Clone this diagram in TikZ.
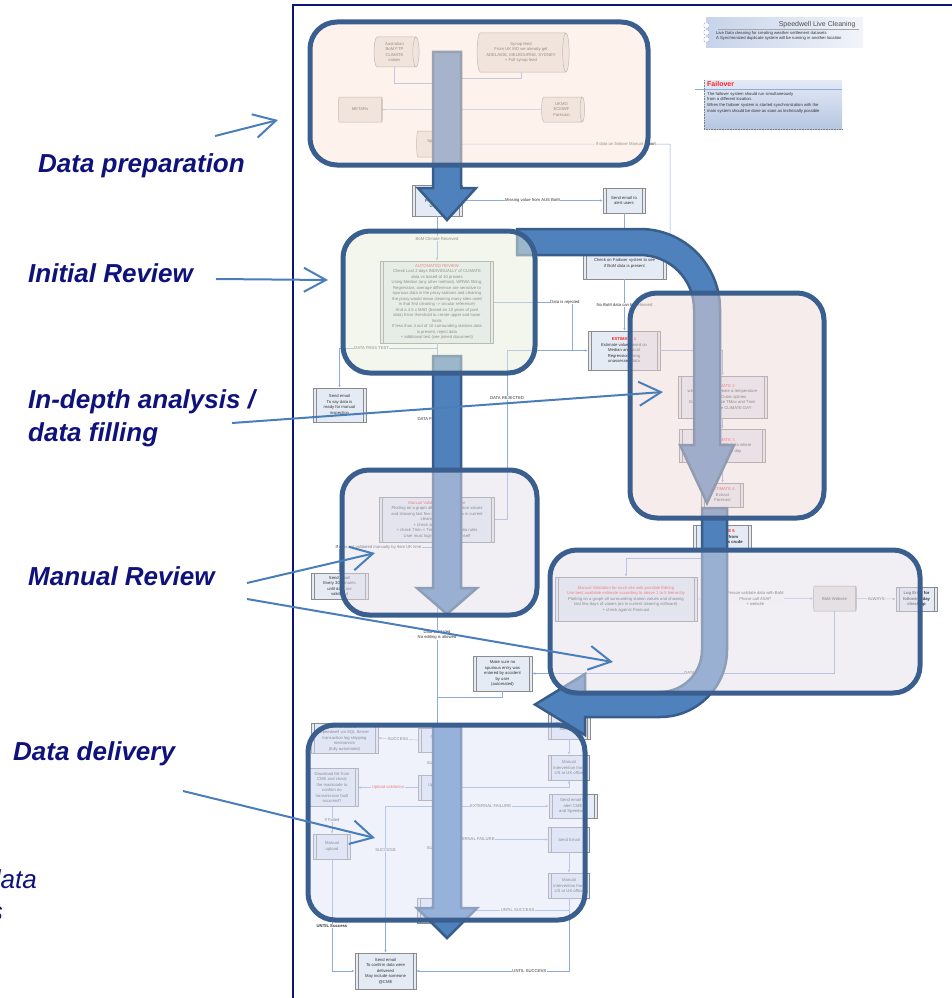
\documentclass[tikz,border=0pt]{standalone}
\usepackage{fontspec}
\setmainfont{Liberation Sans}
\usetikzlibrary{arrows.meta,shapes.geometric,calc}

\definecolor{slidenavy}{HTML}{0E127A}
\definecolor{framecol}{HTML}{3A5E8E}
\definecolor{bigfill}{HTML}{4F81BD}
\definecolor{bigline}{HTML}{385D8A}
\definecolor{calloutcol}{HTML}{4A7EBB}
\definecolor{flowline}{HTML}{8FAADC}
\definecolor{boxline}{HTML}{8C8C8C}
\definecolor{boxfill}{HTML}{E5EBF5}
\definecolor{cylfill}{HTML}{E6E2E0}
\definecolor{flowtext}{HTML}{333333}
\definecolor{alertred}{HTML}{FF2020}
\definecolor{titlegray}{HTML}{505050}
\definecolor{titleL}{HTML}{C6D3EA}
\definecolor{titleR}{HTML}{F1F4FA}
\definecolor{failT}{HTML}{E4EAF5}
\definecolor{failB}{HTML}{B6C6E2}
\definecolor{prepcol}{HTML}{FBE7D9}
\definecolor{reviewcol}{HTML}{E7EDD9}
\definecolor{depthcol}{HTML}{EFD9D9}
\definecolor{manualcol}{HTML}{E3DFE9}
\definecolor{delivcol}{HTML}{DFE3F7}

\newcommand{\flowfont}{\fontsize{4.2}{5.5}\selectfont}

\begin{document}
\begin{tikzpicture}[x=1pt,y=-1pt,
  procbox/.style={draw=boxline, line width=0.5pt, fill=boxfill, align=center,
    font=\flowfont, text=flowtext, inner sep=0.5pt,
    path picture={
      \draw[boxline, line width=0.5pt]
        ([xshift=3pt]path picture bounding box.north west) -- ([xshift=3pt]path picture bounding box.south west)
        ([xshift=-3pt]path picture bounding box.north east) -- ([xshift=-3pt]path picture bounding box.south east);
    }},
  % a lying data store: "minimum height" runs along its axis, "minimum width" across it
  datastore/.style={cylinder, shape aspect=0.3, draw=boxline, line width=0.5pt, fill=cylfill,
    align=center, font=\flowfont, text=flowtext, inner sep=0.5pt},
  flowarrow/.style={draw=flowline, line width=0.5pt, -{Latex[length=3pt,width=2.4pt]}},
  flowlink/.style={draw=flowline, line width=0.5pt},
  flowlabel/.style={font=\flowfont, text=flowtext, fill=white, inner sep=0.5pt, align=center},
  stage/.style={rounded corners=27pt, draw=framecol, line width=5pt, fill opacity=0.5},
  bigarrow/.style={fill=bigfill, draw=bigline, line width=2.5pt, line join=miter},
  callout/.style={draw=calloutcol, line width=2pt, -{Straight Barb[length=22pt,width=24pt]}},
  stagelabel/.style={font=\fontsize{26}{30}\selectfont\bfseries\itshape, text=slidenavy,
    anchor=base west, inner sep=0pt},
  partlabel/.style={font=\fontsize{26}{30}\selectfont\itshape, text=slidenavy,
    anchor=base east, inner sep=0pt}
]
\useasboundingbox (0,0) rectangle (951,998);

% slide frame
\draw[slidenavy, line width=2pt] (293,999) -- (293,5) -- (952,5);

% ---------- title note ----------
\node[left color=titleL, right color=titleR, minimum width=157, minimum height=30,
      anchor=north west, inner sep=0] (titlebox) at (706,17) {};
\foreach \ty in {23,30,37}
  \draw[fill=white, draw=flowline, line width=0.4pt, rounded corners=1pt] (704,\ty) rectangle (709,\ty+5);
\node[anchor=east, font=\fontsize{7}{8}\selectfont, text=titlegray] (titletext) at (859,24.5) {Speedwell Live Cleaning};
\draw[gray!70, line width=0.6pt] (718,29.5) -- (859,29.5);
\node[anchor=north west, font=\fontsize{4.2}{5.6}\selectfont, text=flowtext, align=left, inner sep=0] (titlenote)
  at (716,31) {Live Data cleaning for creating weather settlement datasets\\A Synchronized duplicate system will be running in another location};

% ---------- failover note ----------
\node[top color=failT, bottom color=failB, minimum width=138, minimum height=49,
      anchor=north west, inner sep=0] (failbox) at (704,80) {};
\draw[gray, densely dotted, line width=0.6pt] (failbox.north west) -- (failbox.south west) -- (failbox.south east);
\draw[flowline, line width=0.8pt] (695,89) -- (842,89);
\node[anchor=west, font=\fontsize{7}{8}\selectfont\bfseries, text=alertred, inner sep=0] (failtitle) at (707,83.5) {Failover};
\node[anchor=north west, font=\fontsize{4.2}{5.6}\selectfont, text=flowtext, align=left, inner sep=0] (failtext)
  at (707,92) {The failover system should run simultaneously\\from a different location.\\When the failover system is started synchronization with the\\main system should be done as soon as technically possible};

% ---------- data sources ----------
\node[datastore, minimum height=45, minimum width=30] (ausbom) at (394.5,52) {Australian\\BoM FTP\\CLIMATE\\values};
\node[datastore, minimum height=92, minimum width=39] (synop) at (521,52.5) {Synop feed\\From UK MO we already get\\ADELAIDE, MELBOURNE, SYDNEY\\+ Full synop feed};
\node[datastore, minimum height=44, minimum width=25] (metars) at (360,109.5) {METARs};
\node[datastore, minimum height=43, minimum width=25] (ukmo) at (561.5,109.5) {UKMO\\ECMWF\\Forecast};
\node[datastore, minimum height=43, minimum width=26] (speedb) at (437,144) {Speedwell\\DB};
\coordinate (hubA) at (437,83);
\coordinate (hubB) at (437,78);
\draw[flowlink] (ausbom.south) |- (hubA);
\draw[flowlink] (synop.south) |- (hubB);
\draw[flowlink] (metars.east) -- (ukmo.west);
\draw[flowlink] (hubB) -- (speedb.north);

% ---------- initial checks ----------
\node[procbox, minimum width=50, minimum height=31] (load) at (437,200.5) {Load data\\Processed in\\UK time};
\draw[flowarrow] (speedb.south) -- (load.north);
\node[procbox, minimum width=42, minimum height=25] (alertusers) at (624,200.5) {Send email to\\alert users};
\draw[flowarrow] (load.east) -- node[flowlabel]{Missing value from AUS BoM} (alertusers.west);
\node[procbox, minimum width=83, minimum height=31] (failchk) at (624.5,263.5) {Check on Failover system to see\\if BoM data is present};
\draw[flowarrow] (alertusers.south) -- (alertusers.south |- failchk.north);
\draw[flowarrow] (speedb.east) -- node[flowlabel, pos=0.79]{If data on failover Manual import} (670,144) |- (failchk.east);
\node[procbox, minimum width=72, minimum height=39] (est1) at (624,350.5)
  {\textcolor{alertred}{\textbf{ESTIMATE 1}}\\Estimate value based on\\Median and local\\Regression using\\unassessed data};
\draw[flowarrow] (failchk.south) -- node[flowlabel]{No BoM data can be retrieved} (failchk.south |- est1.north);

\node[procbox, minimum width=113, minimum height=82] (autorev) at (437,302)
  {\textcolor{alertred}{AUTOMATED REVIEW}\\Check Last 2 days INDIVIDUALLY of CLIMATE\\data vs based of 10 proxies\\Using Median (any other method), WRWA fitting,\\Regression, average difference are sensitive to\\spurious data in the proxy stations and cleaning\\the proxy would mean cleaning many sites used\\in that first cleaning -> circular reference)\\And a 4.5 x MAD (based on 10 years of past\\data) Error threshold to create upper and lower\\limits\\If less than 4 out of 10 surrounding stations data\\is present, reject data\\+ additional test (see joined document)};
\draw[flowarrow] (load.south) -- node[flowlabel]{BoM Climate Received} (autorev.north);
\coordinate (rejcorner) at (572,350.5);
\draw[flowlink] (autorev.east) -- node[flowlabel, pos=0.91]{Data is rejected} (572,302) -- (rejcorner);

\node[procbox, minimum width=53, minimum height=34] (mailready) at (339.5,405) {Send email\\To say data is\\ready for manual\\inspection};
\draw[flowarrow] (autorev.south) -- (437,348) -- node[flowlabel, pos=0.67]{DATA PASS TEST} (339.5,348) -- (mailready.north);

% ---------- manual validation ----------
\node[procbox, minimum width=115, minimum height=45] (manval) at (437,519.5)
  {\textcolor{alertred}{Manual Validation for each site}\\Plotting on a graph all surrounding station values\\and showing last few days of values as in current\\cleaning software\\+ check against Forecast\\+ check Tmin < Tmax as per Australia rules\\User must login and check themself};
\draw[flowarrow] (autorev.south) -- (manval.north);
\node[flowlabel, anchor=west] (failtest) at (417,419) {DATA FAILS TEST};
\draw[flowarrow] (manval.east) -| node[flowlabel, pos=0.86]{DATA REJECTED} (507,350.5) -- (est1.west);

\coordinate (nineam) at (437,547);
\node[procbox, minimum width=57, minimum height=26] (mailnag) at (339.5,586) {Send email\\Every 30 minutes\\until data are\\validated};
\draw[flowarrow] (nineam) -- node[flowlabel, pos=0.6]{If data not validated manually by 9am UK time} (339.5,547) -- (mailnag.north);

\node[procbox, minimum width=38, minimum height=24] (mkfile) at (437,740) {Create\\file};
\draw[flowarrow] (manval.south) -- node[flowlabel]{Data validated\\No editing is allowed} (mkfile.north);
\node[procbox, minimum width=59, minimum height=35] (spur) at (502.5,673.5) {Make sure no\\spurious entry was\\entered by accident\\by user\\(automated)};
\draw[flowlink] (spur.south) |- (437,697);

% ---------- estimates ----------
\node[procbox, minimum width=89, minimum height=42] (est2) at (722.5,397)
  {\textcolor{alertred}{ESTIMATE 2}\\with hourly data create a temperature\\curve using Cubic splines\\Extract or calculate TMax and Tmin\\according to the CLIMATE DAY};
\node[procbox, minimum width=86, minimum height=33] (est3) at (722.5,445.5)
  {\textcolor{alertred}{ESTIMATE 3}\\EXTRACT SYNOP Data where\\available for the day};
\node[procbox, minimum width=42, minimum height=24] (est4) at (722.5,495)
  {\textcolor{alertred}{ESTIMATE 4}\\Extract\\Forecast};
\node[procbox, minimum width=58, minimum height=24] (est5) at (722.5,537)
  {\textcolor{alertred}{\textbf{ESTIMATE 5}}\\\textbf{Manual fill from}\\\textbf{other sources crude}};
\draw[flowarrow] (est1.east) -| (est2.north);
\draw[flowarrow] (est2.south) -- (est3.north);
\draw[flowarrow] (est3.south) -- (est4.north);
\draw[flowarrow] (est4.south) -- (est5.north);

\node[procbox, minimum width=142, minimum height=44] (manval2) at (626,599)
  {\textcolor{alertred}{Manual Validation for each site with possible Editing}\\\textcolor{alertred}{Use best available estimate according to above 1 to 5 hierarchy}\\Plotting on a graph all surrounding station values and showing\\last few days of values (as in current cleaning software)\\+ check against Forecast};
\draw[flowarrow] (est5.south) -- ++(0,9) -| (manval2.north);
\node[datastore, minimum height=43, minimum width=25] (bomweb) at (834.5,598.5) {BoM Website};
\draw[flowarrow] (manval2.east) -- node[flowlabel]{Person validate data with BoM\\Phone call ASAP\\+ website} (bomweb.west);
\node[procbox, minimum width=41, minimum height=24] (logerr) at (916.5,599) {\textbf{Log Error for}\\\textbf{following day}\\\textbf{check up}};
\draw[flowarrow] (bomweb.east) -- node[flowlabel]{ALWAYS} (logerr.west);
\draw[flowarrow] (bomweb.south) |- node[flowlabel, pos=0.72]{DATA VALIDATED} (spur.east);

% ---------- delivery ----------
\node[procbox, minimum width=67, minimum height=30] (sqlsend) at (344.5,738)
  {Send data to\\Speedwell via SQL Server\\transaction log shipping\\mechanism\\(fully automated)};
\draw[flowarrow] (mkfile.west) -- node[flowlabel]{SUCCESS} (sqlsend.east);
\node[procbox, minimum width=38, minimum height=25] (upload) at (437,787.5) {Upload to\\CME};
\draw[flowarrow] (mkfile.south) -- node[flowlabel]{SUCCESS} (upload.north);
\node[procbox, minimum width=52, minimum height=38] (download) at (332,787.5)
  {Download file from\\CME and check\\the maskcode to\\confirm no\\transmission fault\\occurred?};
\draw[flowarrow] (upload.west) -- node[flowlabel, text=alertred]{Upload validation} (download.east);
\node[procbox, minimum width=37, minimum height=25] (manup) at (332,846.5) {Manual\\upload};
\draw[flowarrow] (download.south) -- node[flowlabel]{If Failed} (manup.north);
\node[procbox, minimum width=61, minimum height=36] (confirm) at (385.5,971)
  {Send email\\To confirm data were\\delivered\\May include someone\\@CME};
\draw[flowarrow] (manup.south) |- node[flowlabel, pos=0.3, font=\flowfont\bfseries]{UNTIL Success} (confirm.west);

\node[procbox, minimum width=42, minimum height=25] (alertcme0) at (569,726.5) {Send email to\\alert CME};
\node[procbox, minimum width=41, minimum height=25] (manint1) at (569,767.5) {Manual\\Intervention from\\US or UK office};
\node[procbox, minimum width=48, minimum height=24] (alertcme) at (573,806) {Send email to\\alert CME\\and Speedwell};
\node[procbox, minimum width=41, minimum height=25] (sendem) at (569,839.5) {Send Email};
\node[procbox, minimum width=41, minimum height=25] (manint2) at (569,885.5) {Manual\\Intervention from\\US or UK office};
\node[procbox, minimum width=40, minimum height=25] (archive) at (437,910.5) {Archive\\file};
\draw[flowarrow] (alertcme0.south) -- (manint1.north);
\draw[flowarrow] (upload.east) -| (manint1.south);

\coordinate (okjunction) at (437,806);
\coordinate (failjunction) at (437,839.5);
\draw[flowlink] (upload.south) -- (okjunction);
\draw[flowarrow] (okjunction) -- (okjunction -| confirm.north) -- node[flowlabel, pos=0.3]{SUCCESS} (confirm.north);
\draw[flowarrow] (okjunction) -- node[flowlabel, pos=0.48]{EXTERNAL FAILURE} (alertcme.west);
\draw[flowarrow] (okjunction) -- node[flowlabel, pos=0.46]{SUCCESS} (archive.north);
\draw[flowarrow] (failjunction) -- node[flowlabel, pos=0.34]{INTERNAL FAILURE} (sendem.west);
\draw[flowarrow] (sendem.south) -- (manint2.north);
\draw[flowarrow] (manint2.south) |- node[flowlabel, pos=0.73]{UNTIL SUCCESS} (archive.east);
\draw[flowarrow] (manint2.south) |- node[flowlabel, pos=0.63]{UNTIL SUCCESS} (confirm.east);

% ---------- big process arrows ----------
\draw[bigarrow] (433,52) -- (461,52) -- (461,188) -- (476,188) -- (447,220) -- (418,188) -- (433,188) -- cycle;
\draw[bigarrow] (433,356) -- (461,356) -- (461,588) -- (477,588) -- (447,614) -- (417,588) -- (433,588) -- cycle;
\draw[bigarrow] (433,726) -- (461,726) -- (461,908) -- (477,908) -- (447,938) -- (417,908) -- (433,908) -- cycle;
\draw[bigarrow] (517,229) -- (640,229) .. controls (684.2,229) and (720,264.8) .. (720,309)
  -- (720,445) -- (734,445) -- (707,503) -- (680,445) -- (694,445) -- (694,309)
  .. controls (694,279.2) and (669.8,255) .. (640,255) -- (517,255) -- cycle;
\draw[bigarrow] (702,508) -- (727,508) -- (727,650) .. controls (727,687) and (697,717) .. (660,717)
  -- (585,717) -- (585,735) -- (535,704.5) -- (585,674) -- (585,692) -- (660,692)
  .. controls (683.2,692) and (702,673.2) .. (702,650) -- cycle;

% ---------- stage panels ----------
\draw[stage, fill=prepcol] (310,22) rectangle (648,165);
\draw[stage, fill=reviewcol] (343,231) rectangle (535,373);
\draw[stage, fill=depthcol] (630,293) rectangle (824,518);
\draw[stage, fill=manualcol] (342,470) rectangle (537,615);
\draw[stage, fill=manualcol] (550,550) rectangle (920,693);
\draw[stage, fill=delivcol] (308,725) rectangle (585,920);

% ---------- stage labels ----------
\node[stagelabel] (lblprep) at (38,172) {Data preparation};
\node[stagelabel] (lblinit) at (28,282) {Initial Review};
\node[stagelabel] (lbldepth) at (28,408) {In-depth analysis /};
\node[stagelabel] (lblfill) at (28,441) {data filling};
\node[stagelabel] (lblmanual) at (28,585) {Manual Review};
\node[stagelabel] (lbldeliv) at (13,760) {Data delivery};
\node[partlabel] (lblpartA) at (37,888) {data};
\node[partlabel] (lblpartB) at (3,920) {s};

% ---------- callouts ----------
\coordinate (cpA) at (215,136);  \coordinate (cpAe) at (278,120);
\coordinate (ciA) at (216,279);  \coordinate (ciAe) at (328,280);
\coordinate (cdA) at (232,423);  \coordinate (cdAe) at (663,392);
\coordinate (cmA) at (247,583);  \coordinate (cmAe) at (375,553);
\coordinate (cmB) at (247,599);  \coordinate (cmBe) at (613,662);
\coordinate (cvA) at (183,791);  \coordinate (cvAe) at (375,838);
\draw[callout] (cpA) -- (cpAe);
\draw[callout] (ciA) -- (ciAe);
\draw[callout] (cdA) -- (cdAe);
\draw[callout] (cmA) -- (cmAe);
\draw[callout] (cmB) -- (cmBe);
\draw[callout] (cvA) -- (cvAe);
\end{tikzpicture}
\end{document}
